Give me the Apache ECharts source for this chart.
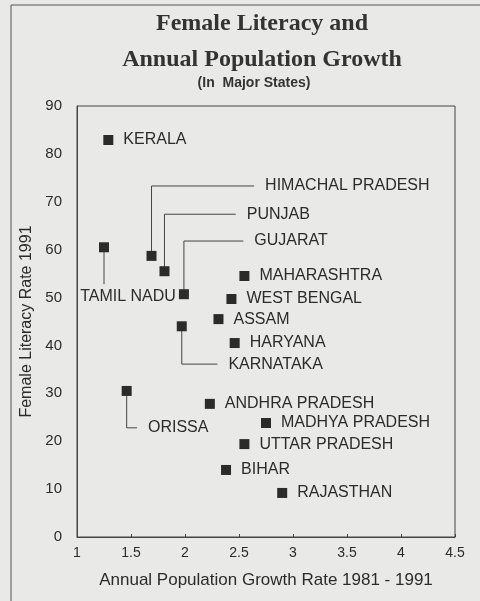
<!DOCTYPE html>
<html>
<head>
<meta charset="utf-8">
<script src="https://cdn.jsdelivr.net/npm/echarts@6/dist/echarts.min.js"></script>
<style>
  html, body { margin: 0; padding: 0; background: #e9e9e7; }
  #chart { width: 480px; height: 601px; }
</style>
</head>
<body>
<div id="chart"></div>
<script>
// values
const states = ['KERALA', 'TAMIL NADU', 'HIMACHAL PRADESH', 'PUNJAB', 'GUJARAT', 'MAHARASHTRA',
  'WEST BENGAL', 'ASSAM', 'KARNATAKA', 'HARYANA', 'ORISSA', 'ANDHRA PRADESH',
  'MADHYA PRADESH', 'UTTAR PRADESH', 'BIHAR', 'RAJASTHAN'];
const growthRate = [1.29, 1.25, 1.69, 1.81, 1.99, 2.55, 2.43, 2.31, 1.97, 2.46, 1.46, 2.23, 2.75, 2.55, 2.38, 2.90];
const femaleLiteracy = [82.9, 60.5, 58.7, 55.5, 50.7, 54.5, 49.7, 45.5, 44.0, 40.5, 30.5, 27.8, 23.8, 19.4, 14.0, 9.2];
const xTicks = [1, 1.5, 2, 2.5, 3, 3.5, 4, 4.5];

// leader lines: [elbow y, end x] in data units (end x null = straight down)
const leaders = {
  'HIMACHAL PRADESH': [73.3, 2.64],
  'PUNJAB': [67.4, 2.47],
  'GUJARAT': [61.8, 2.54],
  'KARNATAKA': [36.1, 2.30],
  'ORISSA': [22.8, 1.555],
  'TAMIL NADU': [52.8, null]
};

const ink = '#2b2b2b';
const labelFont = { color: ink, fontSize: 16, fontFamily: 'Liberation Sans' };

const points = states.map((s, i) => ({
  name: s,
  value: [growthRate[i], femaleLiteracy[i]],
  label: { show: !leaders[s] }
}));

const leaderSeries = Object.keys(leaders).map(s => {
  const i = states.indexOf(s);
  const x = growthRate[i], y = femaleLiteracy[i];
  const [ly, lx] = leaders[s];
  const data = [[x, y], [x, ly]];
  if (lx !== null) data.push([lx, ly]);
  const last = data.length - 1;
  return {
    type: 'line',
    silent: true,
    symbol: 'circle',
    symbolSize: 0,
    showSymbol: true,
    lineStyle: { color: '#444', width: 1 },
    data: data.map((d, k) => k === last ? {
      value: d,
      label: lx !== null
        ? Object.assign({ show: true, position: 'right', distance: 11, formatter: s }, labelFont)
        : Object.assign({ show: true, position: 'bottom', distance: 4, offset: [24, 0], formatter: s }, labelFont)
    } : { value: d, label: { show: false } }),
    z: 1
  };
});

const chart = echarts.init(document.getElementById('chart'));
chart.setOption({
  backgroundColor: '#e9e9e7',
  animation: false,
  title: [{
    text: 'Female Literacy and\nAnnual Population Growth',
    left: 257, top: 1, textAlign: 'center',
    textStyle: { fontFamily: 'Liberation Serif', fontSize: 24, fontWeight: 'bold', color: '#333', lineHeight: 36 }
  }, {
    text: '(In  Major States)',
    left: 249, top: 71, textAlign: 'center',
    textStyle: { fontFamily: 'Liberation Sans', fontSize: 14, fontWeight: 'bold', color: '#333' }
  }],
  graphic: [
    { type: 'line', shape: { x1: 11, y1: 5, x2: 480, y2: 5 }, style: { stroke: '#555', lineWidth: 1 } },
    { type: 'line', shape: { x1: 11, y1: 5, x2: 11, y2: 601 }, style: { stroke: '#555', lineWidth: 1 } }
  ],
  grid: { left: 77, right: 25, top: 106, bottom: 64, show: true, borderColor: '#444', borderWidth: 1, backgroundColor: 'transparent' },
  xAxis: {
    type: 'value', min: xTicks[0], max: xTicks[xTicks.length - 1], interval: 0.5,
    name: 'Annual Population Growth Rate 1981 - 1991',
    nameLocation: 'middle', nameGap: 35,
    nameTextStyle: { color: ink, fontSize: 17, fontFamily: 'Liberation Sans' },
    axisLine: { show: true, lineStyle: { color: '#444' } },
    axisTick: { show: true, inside: true, length: 3, lineStyle: { color: '#444' } },
    axisLabel: { color: ink, fontSize: 14, fontFamily: 'Liberation Sans', margin: 9 },
    splitLine: { show: false }
  },
  yAxis: {
    type: 'value', min: 0, max: 90, interval: 10,
    name: 'Female Literacy Rate 1991',
    nameLocation: 'middle', nameGap: 40,
    nameTextStyle: { color: ink, fontSize: 16, fontFamily: 'Liberation Sans' },
    axisLine: { show: true, lineStyle: { color: '#444' } },
    axisTick: { show: false },
    axisLabel: { color: ink, fontSize: 15, fontFamily: 'Liberation Sans', margin: 15 },
    splitLine: { show: false }
  },
  series: [{
    type: 'scatter',
    symbol: 'rect',
    symbolSize: 10,
    itemStyle: { color: ink, opacity: 1 },
    label: Object.assign({ position: 'right', distance: 10, formatter: '{b}' }, labelFont),
    data: points,
    z: 3
  }].concat(leaderSeries)
});
</script>
</body>
</html>
